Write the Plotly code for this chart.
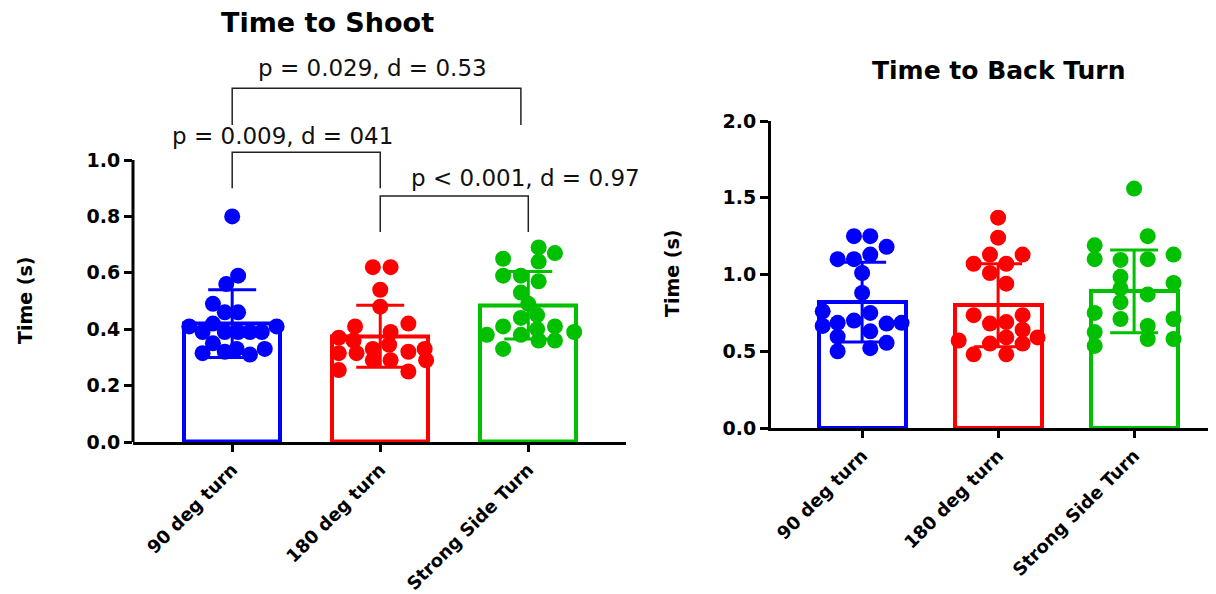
import plotly.graph_objects as go

# ---------------- data ----------------
categories = ["90 deg turn", "180 deg turn", "Strong Side Turn"]
colors = ["#0000FF", "#FF0000", "#00C000"]

# Time to Shoot (s)
shoot_means = [0.42, 0.375, 0.485]
shoot_sds = [0.12, 0.11, 0.12]
shoot_90 = [0.80, 0.59, 0.56, 0.49, 0.46, 0.46, 0.41, 0.42, 0.41, 0.39, 0.39, 0.39, 0.39, 0.39,
            0.35, 0.315, 0.32, 0.33, 0.31, 0.33]
shoot_90_dx = [0.0, 0.04, -0.04, -0.13, 0.04, -0.05, -0.29, -0.13, 0.30, -0.20, -0.05, 0.04, 0.12, 0.20,
               -0.13, -0.20, -0.05, 0.03, 0.12, 0.22]
shoot_180 = [0.62, 0.62, 0.54, 0.48, 0.41, 0.42, 0.39, 0.37, 0.36, 0.315, 0.315, 0.33, 0.345, 0.32,
             0.33, 0.29, 0.29, 0.29, 0.255, 0.25]
shoot_180_dx = [-0.05, 0.07, 0.0, 0.0, -0.17, 0.19, 0.07, -0.28, -0.18, -0.28, -0.16, -0.05, 0.06, 0.19,
                0.30, -0.05, 0.07, 0.31, -0.28, 0.19]
shoot_ss = [0.69, 0.67, 0.65, 0.64, 0.59, 0.59, 0.57, 0.53, 0.49, 0.45, 0.44, 0.41, 0.40, 0.41,
            0.38, 0.39, 0.38, 0.36, 0.36, 0.33]
shoot_ss_dx = [0.07, 0.18, -0.17, 0.07, -0.17, -0.05, 0.07, -0.05, 0.0, 0.06, -0.05, -0.17, 0.06, 0.18,
               -0.28, 0.31, -0.05, 0.07, 0.18, -0.17]

# Time to Back Turn (s)
back_means = [0.82, 0.80, 0.89]
back_sds = [0.26, 0.27, 0.27]
back_90 = [1.25, 1.25, 1.18, 1.10, 1.10, 1.13, 1.01, 0.88, 0.76, 0.75, 0.665, 0.685, 0.70, 0.68,
           0.685, 0.63, 0.595, 0.555, 0.50, 0.52]
back_90_dx = [-0.06, 0.06, 0.18, -0.18, -0.06, 0.06, 0.0, 0.0, -0.29, 0.06, -0.29, -0.18, -0.06, 0.18,
              0.29, 0.06, -0.18, 0.18, -0.18, 0.06]
back_180 = [1.37, 1.24, 1.13, 1.13, 1.07, 1.07, 1.01, 0.94, 0.735, 0.68, 0.69, 0.735, 0.64, 0.57,
            0.59, 0.55, 0.55, 0.59, 0.48, 0.48]
back_180_dx = [0.0, 0.0, -0.06, 0.18, -0.18, 0.06, -0.06, 0.06, -0.18, -0.06, 0.06, 0.18, 0.18, -0.29,
               0.06, -0.06, 0.18, 0.29, -0.18, 0.06]
back_ss = [1.56, 1.25, 1.19, 1.10, 1.095, 1.10, 1.13, 0.985, 0.91, 0.945, 0.87, 0.82, 0.75, 0.71,
           0.71, 0.625, 0.665, 0.58, 0.58, 0.535]
back_ss_dx = [0.0, 0.1, -0.29, -0.29, -0.1, 0.1, 0.29, -0.1, -0.1, 0.29, 0.1, -0.1, -0.29, -0.1,
              0.29, -0.29, 0.1, 0.1, 0.29, -0.29]

# significance brackets (Time to Shoot)
bracket_x0 = [0, 0, 1]
bracket_x1 = [1.95, 1, 2]
bracket_top = [1.255, 1.028, 0.872]
bracket_leg = [1.124, 0.90, 0.745]
bracket_labels = ["p = 0.029, d = 0.53", "p = 0.009, d = 041", "p < 0.001, d = 0.97"]
label_x = [0.95, 0.34, 1.98]
label_y = [1.326, 1.085, 0.936]

# ---------------- figure ----------------
FONT = "DejaVu Sans"
W, H = 1208, 586     # page body keeps a default 8px margin
OFF = 8


def px(x):
    return (x - OFF) / W


def py(y):
    return 1 - (y - OFF) / H


fig = go.Figure()

shoot_pts = [(shoot_90, shoot_90_dx), (shoot_180, shoot_180_dx), (shoot_ss, shoot_ss_dx)]
back_pts = [(back_90, back_90_dx), (back_180, back_180_dx), (back_ss, back_ss_dx)]

for panel, (means, sds, pts, xa, ya, bw) in enumerate([
        (shoot_means, shoot_sds, shoot_pts, "x", "y", 0.65),
        (back_means, back_sds, back_pts, "x2", "y2", 0.64)]):
    for i in range(3):
        fig.add_trace(go.Bar(
            x=[i], y=[means[i]], width=bw,
            marker=dict(color="rgba(255,255,255,0)", line=dict(color=colors[i], width=4)),
            error_y=dict(type="data", array=[sds[i]], visible=True, color=colors[i],
                         thickness=3, width=24),
            xaxis=xa, yaxis=ya, showlegend=False))
        vals, dx = pts[i]
        fig.add_trace(go.Scatter(
            x=[i + d for d in dx], y=vals, mode="markers",
            marker=dict(color=colors[i], size=16, line=dict(width=0)),
            xaxis=xa, yaxis=ya, showlegend=False, cliponaxis=False))

# brackets
for x0, x1, top, leg in zip(bracket_x0, bracket_x1, bracket_top, bracket_leg):
    fig.add_shape(type="path",
                  path=f"M {x0},{leg} L {x0},{top} L {x1},{top} L {x1},{leg}",
                  xref="x", yref="y", line=dict(color="#222222", width=1.5))
for txt, lx, ly in zip(bracket_labels, label_x, label_y):
    fig.add_annotation(x=lx, y=ly, xref="x", yref="y", text=txt, showarrow=False,
                       xanchor="center", yanchor="middle",
                       font=dict(family=FONT, size=23, color="#111111"))

# left y axis line (only up to 1.0)
fig.add_shape(type="line", xref="x domain", yref="y", x0=0, x1=0, y0=0, y1=1.0,
              line=dict(color="black", width=3))

xtickfont = dict(family=FONT, size=18, color="black", weight="bold")
ytickfont = dict(family=FONT, size=19, color="black", weight="bold")
common_x = dict(tickvals=[0, 1, 2], ticktext=categories, tickangle=-45, showgrid=False,
                zeroline=False, showline=True, linecolor="black", linewidth=3, automargin=False,
                ticks="outside", ticklen=7, tickwidth=3, tickcolor="black", tickfont=xtickfont)
common_y = dict(showgrid=False, zeroline=False, ticks="outside", ticklen=8, tickwidth=3,
                tickcolor="black", tickfont=ytickfont, tickformat=".1f", automargin=False)

fig.update_layout(
    width=W, height=H,
    margin=dict(l=0, r=0, t=0, b=0, autoexpand=False),
    paper_bgcolor="white", plot_bgcolor="white",
    xaxis=dict(domain=[px(133), px(626)], range=[-0.67, 2.66], anchor="y", **common_x),
    yaxis=dict(domain=[py(442), py(41.6)], range=[0, 1.42], tickvals=[0, 0.2, 0.4, 0.6, 0.8, 1.0],
               showline=False, anchor="x", **common_y),
    xaxis2=dict(domain=[px(771), min(1.0, px(1213))], range=[-0.67, 2.58], anchor="y2", **common_x),
    yaxis2=dict(domain=[py(428), py(121)], range=[0, 2.0], tickvals=[0, 0.5, 1.0, 1.5, 2.0],
                showline=True, linecolor="black", linewidth=3, anchor="x2", **common_y),
    bargap=0,
)

fig.add_annotation(x=px(327), y=py(22), xref="paper", yref="paper", text="<b>Time to Shoot</b>",
                   xanchor="center", yanchor="middle",
                   showarrow=False, font=dict(family=FONT, size=27, color="black"))
fig.add_annotation(x=px(998), y=py(70), xref="paper", yref="paper", text="<b>Time to Back Turn</b>",
                   xanchor="center", yanchor="middle",
                   showarrow=False, font=dict(family=FONT, size=25, color="black"))
fig.add_annotation(x=px(25), y=py(301), xref="paper", yref="paper", text="<b>Time (s)</b>",
                   xanchor="center", yanchor="middle",
                   textangle=-90, showarrow=False, font=dict(family=FONT, size=19, color="black"))
fig.add_annotation(x=px(672), y=py(274), xref="paper", yref="paper", text="<b>Time (s)</b>",
                   xanchor="center", yanchor="middle",
                   textangle=-90, showarrow=False, font=dict(family=FONT, size=19, color="black"))

fig.write_html("out.html")
